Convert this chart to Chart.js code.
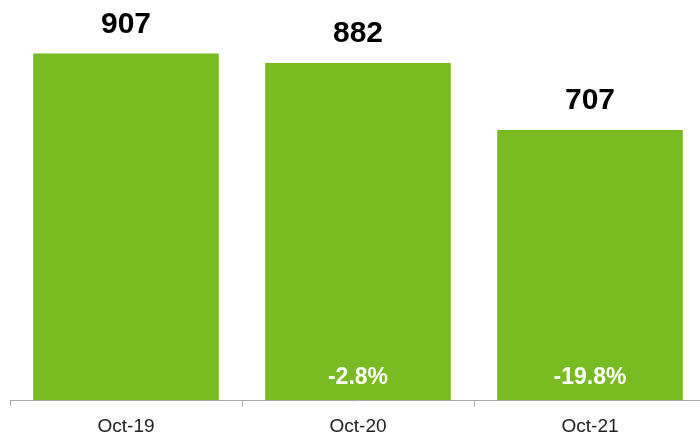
<!DOCTYPE html>
<html>
<head>
<meta charset="utf-8">
<script src="https://cdn.jsdelivr.net/npm/chart.js@4"></script>
<style>
  html, body { margin: 0; padding: 0; background: #fff; overflow: hidden; }
  #wrap { width: 706px; height: 439px; }
</style>
</head>
<body>
<div id="wrap"><canvas id="myChart"></canvas></div>
<script>
var categories = ['Oct-19', 'Oct-20', 'Oct-21'];
var values = [907, 882, 707];
var changes = ['', '-2.8%', '-19.8%'];

var barLabels = {
    id: 'barLabels',
    afterDatasetsDraw: function (chart) {
        var ctx = chart.ctx;
        var meta = chart.getDatasetMeta(0);
        var bottom = chart.chartArea.bottom;
        ctx.save();
        ctx.textAlign = 'center';
        meta.data.forEach(function (bar, i) {
            ctx.fillStyle = '#000';
            ctx.font = 'bold 30px "Liberation Sans", Arial, sans-serif';
            ctx.textBaseline = 'bottom';
            ctx.fillText(values[i], bar.x, bar.y - 14);
            if (changes[i]) {
                ctx.fillStyle = '#fff';
                ctx.font = 'bold 23px "Liberation Sans", Arial, sans-serif';
                ctx.textBaseline = 'middle';
                ctx.fillText(changes[i], bar.x, bottom - 23);
            }
        });
        ctx.restore();
    }
};

var ctx = document.getElementById('myChart').getContext('2d');
var myChart = new Chart(ctx, {
    type: 'bar',
    data: {
        labels: categories,
        datasets: [{
            data: values,
            backgroundColor: '#78bb22',
            categoryPercentage: 0.8,
            barPercentage: 1.0
        }]
    },
    options: {
        responsive: true,
        maintainAspectRatio: false,
        animation: false,
        layout: { padding: { top: 18, left: 10, right: 0, bottom: -8 } },
        plugins: {
            legend: { display: false },
            tooltip: { enabled: false }
        },
        scales: {
            y: {
                display: false,
                min: 0,
                max: 1000
            },
            x: {
                offset: true,
                border: { display: true, color: '#aaaaaa', width: 1 },
                grid: {
                    offset: true,
                    drawOnChartArea: false,
                    drawTicks: true,
                    tickLength: 6,
                    color: '#aaaaaa'
                },
                ticks: {
                    color: '#222',
                    padding: 9,
                    font: { family: '"Liberation Sans", Arial, sans-serif', size: 19 }
                }
            }
        }
    },
    plugins: [barLabels]
});
</script>
</body>
</html>
